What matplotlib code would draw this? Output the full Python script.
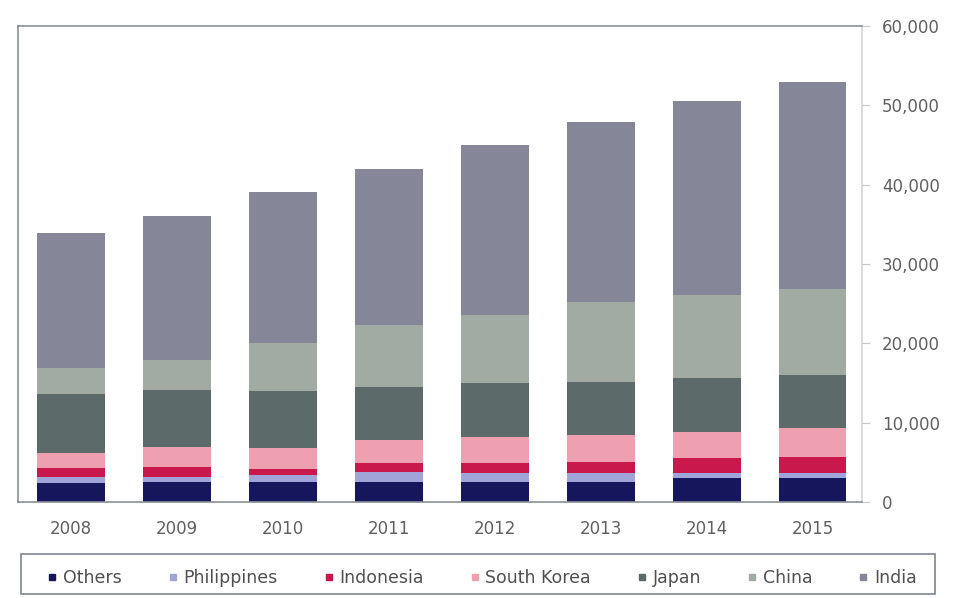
import matplotlib
matplotlib.use("Agg")
import matplotlib.pyplot as plt
from matplotlib.lines import Line2D
from matplotlib.patches import Rectangle
import numpy as np

years = ["2008", "2009", "2010", "2011", "2012", "2013", "2014", "2015"]

# stacked from the bottom up
others      = [2400, 2500, 2500, 2500, 2500, 2500, 3000, 3000]
philippines = [750, 650, 900, 1250, 1150, 1150, 650, 650]
indonesia   = [1100, 1250, 800, 1130, 1250, 1400, 1900, 2000]
south_korea = [1900, 2500, 2600, 2900, 3300, 3400, 3250, 3650]
japan       = [7500, 7200, 7200, 6700, 6800, 6700, 6800, 6650]
china       = [3300, 3800, 6000, 7800, 8550, 10050, 10450, 10950]
india       = [17000, 18200, 19100, 19750, 21400, 22650, 24500, 26100]

series = [
    ("Others", others, "#16165c"),
    ("Philippines", philippines, "#a0a4d8"),
    ("Indonesia", indonesia, "#c8184c"),
    ("South Korea", south_korea, "#eea0b0"),
    ("Japan", japan, "#5c6a6a"),
    ("China", china, "#a2aaa4"),
    ("India", india, "#868699"),
]

plt.rcParams["font.family"] = ["DejaVu Sans"]

fig = plt.figure(figsize=(9.59, 5.98), dpi=100)
ax = fig.add_axes([0.0188, 0.1605, 0.8804, 0.796])

x = np.arange(len(years))
bottom = np.zeros(len(years))
for name, vals, col in series:
    ax.bar(x, vals, width=0.64, bottom=bottom, color=col, linewidth=0)
    bottom += np.array(vals)

ax.set_xlim(-0.5, 7.47)
ax.set_ylim(0, 60000)
ax.set_xticks(x)
ax.set_xticklabels(years)
ax.set_yticks(range(0, 60001, 10000))
ax.yaxis.set_major_formatter(matplotlib.ticker.FuncFormatter(lambda v, p: f"{int(v):,}"))
ax.yaxis.tick_right()
ax.tick_params(axis="x", length=0, pad=13, labelsize=12, labelcolor="#606060")
ax.tick_params(axis="y", length=6, width=0.8, color="#c8c8c8", pad=8,
               labelsize=12, labelcolor="#606060")

for side in ["left", "top", "bottom"]:
    ax.spines[side].set_color("#8a9098")
    ax.spines[side].set_linewidth(1.2)
ax.spines["right"].set_color("#d4d4d4")
ax.spines["right"].set_linewidth(1.2)

# legend frame
fig.patches.append(Rectangle((0.022, 0.006), 0.953, 0.067, transform=fig.transFigure,
                             fill=False, edgecolor="#7d8590", linewidth=1.2))
handles = [Line2D([], [], marker="s", linestyle="none", markersize=5,
                  markerfacecolor=col, markeredgecolor=col) for _, _, col in series]
fig.legend(handles, [s[0] for s in series], loc="center", ncol=7,
           bbox_to_anchor=(0.503, 0.0335), frameon=False, fontsize=12.5,
           handlelength=0.5, handletextpad=0.35, columnspacing=2.7,
           labelcolor="#505050")

fig.savefig("out.png", dpi=100)
